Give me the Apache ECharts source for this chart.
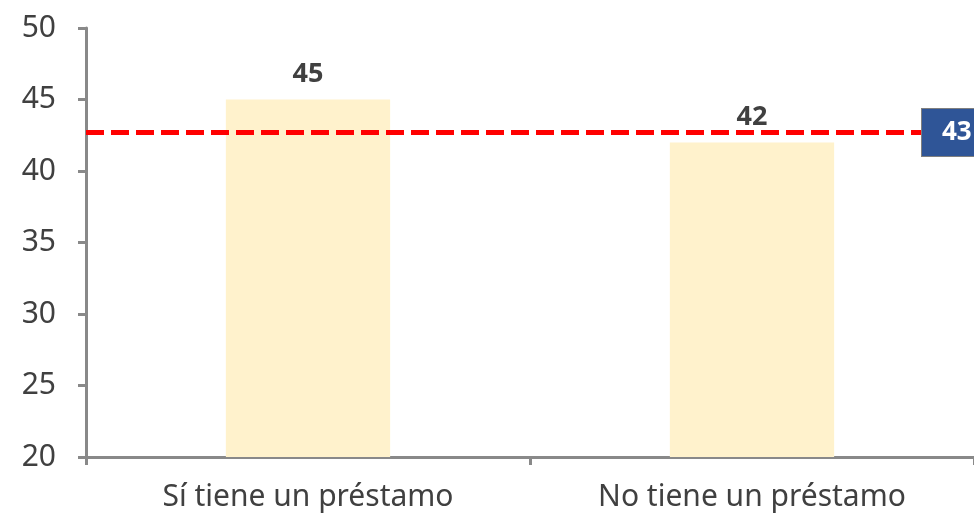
<!DOCTYPE html>
<html>
<head>
<meta charset="utf-8">
<script src="https://cdn.jsdelivr.net/npm/echarts@6/dist/echarts.min.js"></script>
<style>
  html, body { margin: 0; padding: 0; background: #fff; }
  #chart { width: 974px; height: 515px; }
</style>
</head>
<body>
<div id="chart"></div>
<script>
const categories = ['Sí tiene un préstamo', 'No tiene un préstamo']
const values = [45, 42]
const averageValue = 42.7
const averageLabel = '43'

const chart = echarts.init(document.getElementById('chart'))

const option = {
  animation: false,
  textStyle: { fontFamily: 'Noto Sans' },
  grid: {
    left: 86,
    right: 0,
    top: 28,
    bottom: 58
  },
  xAxis: {
    type: 'category',
    data: categories,
    axisLine: { lineStyle: { color: '#898989', width: 3 } },
    axisTick: { show: true, length: 8, lineStyle: { color: '#898989', width: 3 } },
    axisLabel: { color: '#404040', fontSize: 30, margin: 25 }
  },
  yAxis: {
    type: 'value',
    min: 20,
    max: 50,
    interval: 5,
    axisLine: { show: true, lineStyle: { color: '#898989', width: 3 } },
    axisTick: { show: true, length: 8, lineStyle: { color: '#898989', width: 3 } },
    axisLabel: { color: '#404040', fontSize: 30, margin: 30 },
    splitLine: { show: false }
  },
  series: [
    {
      type: 'bar',
      data: values,
      barWidth: '37%',
      itemStyle: { color: '#FFF2CC' },
      label: {
        show: true,
        position: 'top',
        distance: 12,
        color: '#404040',
        fontSize: 27,
        fontWeight: 'bold'
      },
      markLine: {
        symbol: 'none',
        silent: true,
        lineStyle: { color: '#FF0000', type: [18, 7], width: 5 },
        label: {
          show: true,
          position: 'end',
          distance: -52,
          formatter: averageLabel,
          color: '#fff',
          fontSize: 26,
          fontWeight: 'bold',
          backgroundColor: '#2F5597',
          borderColor: '#7f7f7f',
          borderWidth: 1,
          padding: [11, 30, 10, 20]
        },
        data: [{ yAxis: averageValue }]
      }
    }
  ]
}

chart.setOption(option)
</script>
</body>
</html>
